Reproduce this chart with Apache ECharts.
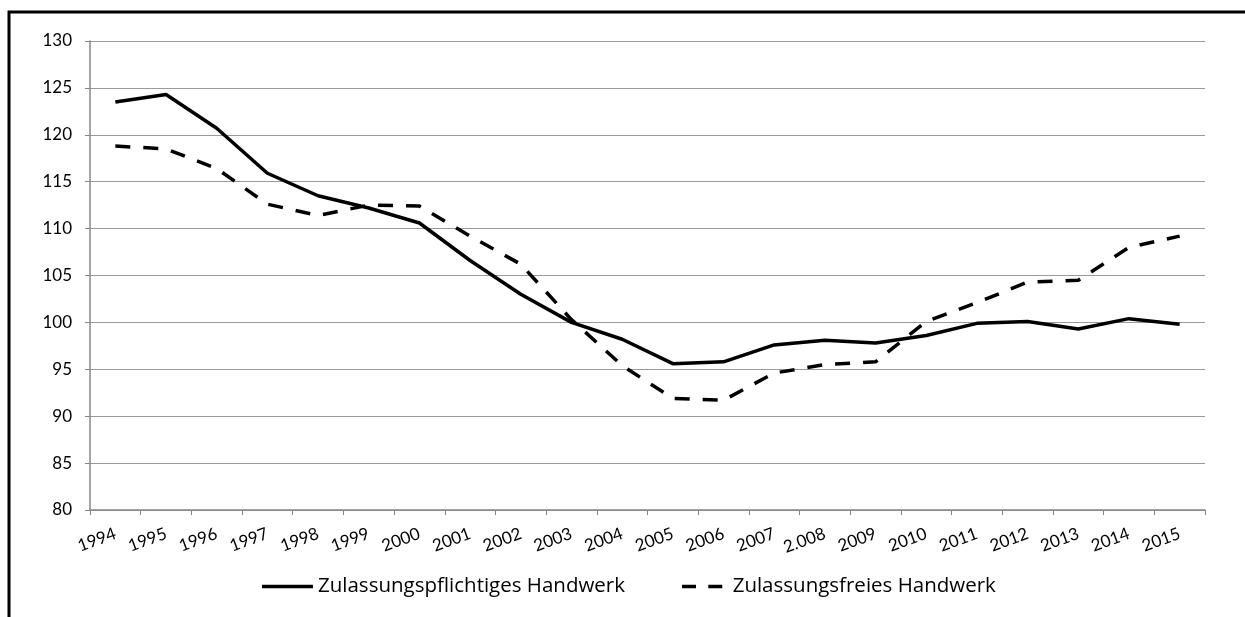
<!DOCTYPE html>
<html>
<head>
<meta charset="utf-8">
<script src="https://cdn.jsdelivr.net/npm/echarts@6/dist/echarts.min.js"></script>
<style>
  html, body { margin: 0; padding: 0; background: #fff; }
  #chart { width: 1245px; height: 617px; }
</style>
</head>
<body>
<div id="chart"></div>
<script>
const years = ['1994', '1995', '1996', '1997', '1998', '1999', '2000', '2001', '2002', '2003', '2004',
  '2005', '2006', '2007', '2.008', '2009', '2010', '2011', '2012', '2013', '2014', '2015']

const pflichtig = [123.5, 124.3, 120.7, 115.9, 113.5, 112.2, 110.6, 106.6, 103.0, 100.0, 98.2,
  95.6, 95.8, 97.6, 98.1, 97.8, 98.6, 99.9, 100.1, 99.3, 100.4, 99.8]

const frei = [118.8, 118.5, 116.4, 112.6, 111.4, 112.5, 112.4, 109.2, 106.2, 100.3, 95.4,
  91.9, 91.7, 94.6, 95.5, 95.8, 100.1, 102.1, 104.3, 104.5, 108.0, 109.2]

const names = ['Zulassungspflichtiges Handwerk', 'Zulassungsfreies Handwerk']

const chart = echarts.init(document.getElementById('chart'))

chart.setOption({
  animation: false,
  textStyle: { fontFamily: 'Lato' },
  graphic: [
    {
      // Rahmen (links/oben sichtbar)
      type: 'rect',
      shape: { x: 9, y: 12, width: 1300, height: 700 },
      style: { fill: 'none', stroke: '#000', lineWidth: 3 }
    }
  ],
  grid: {
    left: 90,
    right: 40,
    top: 41,
    bottom: 107
  },
  legend: {
    left: 262,
    top: 576,
    padding: 0,
    itemWidth: 51,
    itemHeight: 3.5,
    itemGap: 57,
    textStyle: { color: '#000', fontSize: 20.5, fontFamily: 'Open Sans' },
    data: [
      { name: names[0], icon: 'rect' },
      { name: names[1], icon: 'path://M0,0h16v4h-16z M30,0h16v4h-16z' }
    ]
  },
  xAxis: {
    type: 'category',
    data: years,
    boundaryGap: true,
    axisLine: { lineStyle: { color: '#868686', width: 1.5 } },
    axisTick: { show: true, length: 5, lineStyle: { color: '#868686' } },
    axisLabel: { color: '#000', fontSize: 17, rotate: 20, margin: 23, interval: 0 }
  },
  yAxis: {
    type: 'value',
    min: 80,
    max: 130,
    interval: 5,
    axisLine: { show: true, lineStyle: { color: '#868686', width: 1.5 } },
    axisTick: { show: true, length: 5, lineStyle: { color: '#868686' } },
    axisLabel: { color: '#000', fontSize: 17, margin: 18 },
    splitLine: { lineStyle: { color: '#9a9a9a', width: 1.2 } }
  },
  series: [
    {
      name: names[0],
      type: 'line',
      symbol: 'none',
      data: pflichtig,
      lineStyle: { color: '#000', width: 3.5 },
      itemStyle: { color: '#000' }
    },
    {
      name: names[1],
      type: 'line',
      symbol: 'none',
      data: frei,
      lineStyle: { color: '#000', width: 3.5, type: [15, 13] },
      itemStyle: { color: '#000' }
    }
  ]
})
</script>
</body>
</html>
